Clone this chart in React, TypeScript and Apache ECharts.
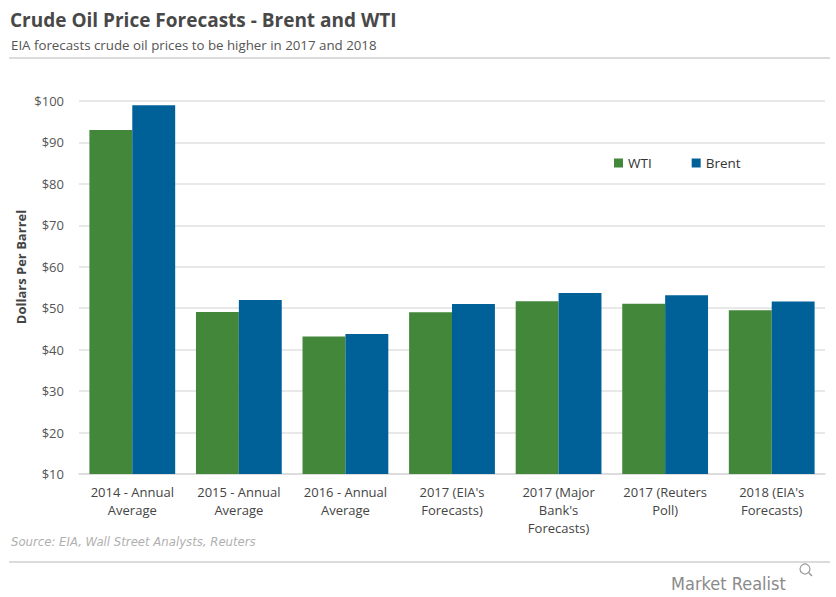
import React, { useEffect, useRef } from "react";
import * as echarts from "echarts";

const categories = [
  "2014 - Annual\nAverage",
  "2015 - Annual\nAverage",
  "2016 - Annual\nAverage",
  "2017 (EIA's\nForecasts)",
  "2017 (Major\nBank's\nForecasts)",
  "2017 (Reuters\nPoll)",
  "2018 (EIA's\nForecasts)",
];
const wti = [93.0, 49.1, 43.2, 49.0, 51.7, 51.1, 49.5];
const brent = [99.0, 52.0, 43.8, 51.0, 53.7, 53.1, 51.6];

export default function App() {
  const ref = useRef<HTMLDivElement>(null);
  useEffect(() => {
    const chart = echarts.init(ref.current!, null, { renderer: "svg" });
    const font = "'Open Sans', sans-serif";
    chart.setOption({
      animation: false,
      backgroundColor: "#fff",
      textStyle: { fontFamily: font },
      title: [
        {
          text: "Crude Oil Price Forecasts - Brent and WTI",
          left: 5,
          top: 5,
          textStyle: { fontSize: 19, fontWeight: "bold", color: "#484848", fontFamily: font },
        },
        {
          text: "EIA forecasts crude oil prices to be higher in 2017 and 2018",
          left: 6,
          top: 33,
          textStyle: { fontSize: 13.3, fontWeight: "normal", color: "#555", fontFamily: font },
        },
        {
          text: "Source: EIA, Wall Street Analysts, Reuters",
          left: 6,
          top: 530,
          textStyle: { fontSize: 13, fontWeight: "normal", fontStyle: "italic", color: "#b0b0b0", fontFamily: "'DejaVu Sans Condensed', 'Open Sans', sans-serif" },
        },
        {
          text: "Market Realist",
          left: 666,
          top: 569,
          textStyle: { fontSize: 18, fontWeight: "normal", color: "#8a8a8a", fontFamily: "'DejaVu Sans Condensed', 'Open Sans', sans-serif" },
        },
      ],
      graphic: [
        { type: "line", shape: { x1: 9, y1: 58, x2: 830, y2: 58 }, style: { stroke: "#cfcfcf", lineWidth: 1.5 } },
        { type: "line", shape: { x1: 9, y1: 562, x2: 830, y2: 562 }, style: { stroke: "#cfcfcf", lineWidth: 1.5 } },
        {
          type: "text",
          x: 21,
          y: 267,
          rotation: Math.PI / 2,
          style: {
            text: "Dollars Per Barrel",
            textAlign: "center",
            textVerticalAlign: "middle",
            fontSize: 13,
            fontWeight: "bold",
            fill: "#444",
            fontFamily: font,
          },
        },
        { type: "circle", shape: { cx: 805, cy: 569, r: 5 }, style: { fill: "none", stroke: "#9a9a9a", lineWidth: 1.2 } },
        { type: "line", shape: { x1: 809, y1: 573, x2: 812, y2: 576 }, style: { stroke: "#9a9a9a", lineWidth: 1.5 } },
      ],
      legend: {
        left: 609,
        top: 151,
        itemWidth: 9,
        itemHeight: 9,
        itemGap: 40,
        icon: "rect",
        textStyle: { fontSize: 13.5, color: "#333", fontFamily: font },
        data: ["WTI", "Brent"],
      },
      grid: { left: 79, right: 11, top: 101, bottom: 123, containLabel: false },
      xAxis: {
        type: "category",
        data: categories,
        axisTick: { show: false },
        axisLine: { show: true, lineStyle: { color: "#d9d9d9", width: 1.5 } },
        axisLabel: { color: "#444", fontSize: 13, lineHeight: 18, margin: 9, interval: 0, fontFamily: font },
      },
      yAxis: {
        type: "value",
        min: 10,
        max: 100,
        interval: 10,
        axisLine: { show: false },
        axisTick: { show: false },
        axisLabel: { formatter: "${value}", color: "#555", fontSize: 13, margin: 15, fontFamily: font },
        splitLine: { lineStyle: { color: "#e0e0e0", width: 1.5 } },
      },
      series: [
        {
          name: "WTI",
          type: "bar",
          data: wti,
          barGap: "0%",
          barCategoryGap: "19.5%",
          itemStyle: { color: "#43873b" },
        },
        {
          name: "Brent",
          type: "bar",
          data: brent,
          itemStyle: { color: "#006098" },
        },
      ],
    });
    return () => chart.dispose();
  }, []);
  return <div ref={ref} style={{ position: "absolute", left: 0, top: 0, width: 836, height: 597 }} />;
}
